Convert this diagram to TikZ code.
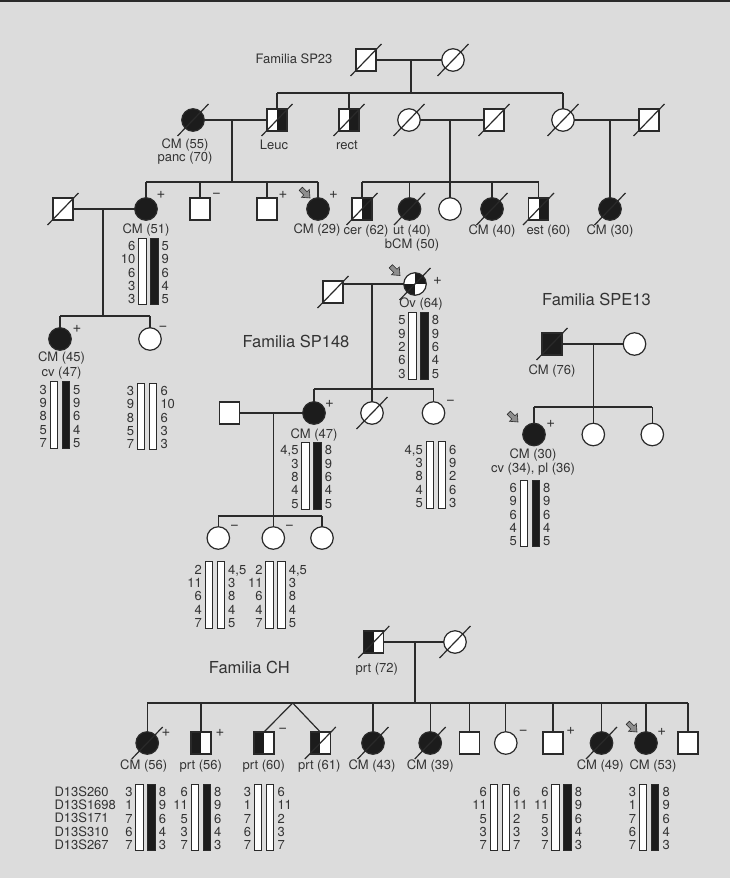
\documentclass[tikz,border=0pt]{standalone}
\usepackage{fontspec}
\setmainfont{TeX Gyre Heros}
\definecolor{bg}{HTML}{DCDCDC}
\definecolor{lc}{HTML}{2A2A2A}
\definecolor{fc}{HTML}{1C1C1C}
\definecolor{tc}{HTML}{333333}
\definecolor{ac}{HTML}{8E8E8E}
\newcount\hcnt
\tikzset{
  ln/.style={draw=lc, line width=1.2pt},
  sym/.style={draw=lc, line width=1.2pt, fill=white, inner sep=0pt, outer sep=0pt},
  male/.style={sym, rectangle, minimum width=20pt, minimum height=22pt},
  fem/.style={sym, circle, minimum size=22.5pt},
  aff/.style={fill=fc},
  lhalf/.style={path picture={\fill[fc] (path picture bounding box.south west) rectangle (path picture bounding box.north);}},
  rhalf/.style={path picture={\fill[fc] (path picture bounding box.south) rectangle (path picture bounding box.north east);}},
  quart/.style={path picture={\fill[fc] (path picture bounding box.center) rectangle (path picture bounding box.north east);
                              \fill[fc] (path picture bounding box.center) rectangle (path picture bounding box.south west);}},
  lab/.style={text=tc, font=\fontsize{13}{15}\selectfont, inner sep=0pt},
  num/.style={text=tc, font=\fontsize{13}{15}\selectfont, inner sep=0pt, text height=9.3pt, text depth=0pt},
  head/.style={text=tc, font=\fontsize{16.5}{19}\selectfont, inner sep=0pt},
  sg/.style={text=tc, font=\fontsize{15}{17}\selectfont, inner sep=0pt},
  barst/.style={draw=lc, line width=1pt},
}
\newcommand\dcd[1]{\draw[ln] ([shift={(-15.5,16)}]#1.center) -- ([shift={(15.5,-16)}]#1.center);}
\newcommand\prb[2]{%
  \begin{scope}[shift={(#1,#2)}, rotate=-45]
    \filldraw[fill=ac, draw=lc, line width=0.6pt] (0,0) -- (-6.5,-5.5) -- (-6.5,-2.3) -- (-13,-2.3) -- (-13,2.3) -- (-6.5,2.3) -- (-6.5,5.5) -- cycle;
  \end{scope}}
\newcommand\hap[6]{%
  \draw[barst, fill=#3] (#1,#2) rectangle ++(7.5,66.7);
  \draw[barst, fill=#4] (#1+12,#2) rectangle ++(7.5,66.7);
  \foreach \v [count=\i] in {#5} {\global\advance\hcnt by 1
    \node[num, anchor=east] (hn\the\hcnt) at (#1-3, #2+8+\i*13.3-13.3) {\v};}
  \foreach \v [count=\i] in {#6} {\global\advance\hcnt by 1
    \node[num, anchor=west] (hn\the\hcnt) at (#1+23, #2+8+\i*13.3-13.3) {\v};}
}
\begin{document}
\begin{tikzpicture}[x=1pt,y=-1pt]
\useasboundingbox (0,0) rectangle (730,878);
\fill[bg] (0,0) rectangle (730,878);
\draw[lc, line width=2pt] (0,1) -- (730,1);

% ================= Familia SP23 =================
\node[lab] (t23) at (294,59) {Familia SP23};
\node[male] (a1) at (366,60) {};
\node[fem] (a2) at (453,60) {};
\dcd{a1}\dcd{a2}
\coordinate (ja) at (411,60);
\coordinate (sa) at (411,93);
\draw[ln] (a1) -- (a2);
\draw[ln] (ja) -- (sa);

\node[fem,aff] (b1) at (193,120) {};
\node[male,rhalf] (b2) at (277,120) {};
\node[male,rhalf] (b3) at (349,120) {};
\node[fem] (b4) at (409,120) {};
\node[male] (b5) at (494,120) {};
\node[fem] (b6) at (563,120) {};
\node[male] (b7) at (649,120) {};
\dcd{b1}\dcd{b2}\dcd{b3}\dcd{b4}\dcd{b5}\dcd{b6}\dcd{b7}
\draw[ln] (b2 |- sa) -- (b6 |- sa);
\draw[ln] (b2 |- sa) -- (b2.north);
\draw[ln] (b3 |- sa) -- (b3.north);
\draw[ln] (b6 |- sa) -- (b6.north);
\draw[ln] (b1) -- (b2);
\draw[ln] (b4) -- (b5);
\draw[ln] (b6) -- (b7);
\node[lab] (lb1) at (185,145) {CM (55)};
\node[lab] (lb1b) at (185,158) {panc (70)};
\node[lab] (lb2) at (274,145) {Leuc};
\node[lab] (lb3) at (347,145) {rect};

\coordinate (jb1) at (232,120);
\coordinate (sb1) at (232,182);
\coordinate (jb2) at (450,120);
\coordinate (sb2) at (450,182);
\coordinate (jb3) at (610,120);
\draw[ln] (jb1) -- (sb1);

\node[male] (c1) at (63,209) {};
\node[fem,aff] (c2) at (146,209) {};
\node[male] (c3) at (200,209) {};
\node[male] (c4) at (267,209) {};
\node[fem,aff] (c5) at (318,209) {};
\node[male,rhalf] (c6) at (362,209) {};
\node[fem,aff] (c7) at (409.5,209) {};
\node[fem] (c8) at (450,209) {};
\node[fem,aff] (c9) at (492,209) {};
\node[male,rhalf] (c10) at (538.5,209) {};
\node[fem,aff] (c12) at (610,209) {};
\dcd{c1}\dcd{c6}\dcd{c7}\dcd{c9}\dcd{c10}\dcd{c12}
\draw[ln] (c2 |- sb1) -- (c5 |- sb1);
\foreach \n in {c2,c3,c4,c5} \draw[ln] (\n |- sb1) -- (\n.north);
\draw[ln] (c6 |- sb2) -- (c10 |- sb2);
\foreach \n in {c6,c7,c9,c10} \draw[ln] (\n |- sb2) -- (\n.north);
\draw[ln] (jb2) -- (c8.north);
\draw[ln] (jb3) -- (c12.north);
\node[sg] (c2p) at (161,195) {+};
\node[sg] (c3p) at (216.5,195) {−};
\node[sg] (c4p) at (283,195) {+};
\node[sg] (c5p) at (333.5,195) {+};
\prb{310}{198}
\node[lab] (lc2) at (146,230) {CM (51)};
\node[lab] (lc5) at (317,230) {CM (29)};
\node[lab] (lc6) at (366,231) {cer (62)};
\node[lab] (lc7) at (412,231) {ut (40)};
\node[lab] (lc7b) at (412,245.5) {bCM (50)};
\node[lab] (lc9) at (492,231) {CM (40)};
\node[lab] (lc10) at (548.5,231) {est (60)};
\node[lab] (lc12) at (610,231) {CM (30)};
\hap{138.5}{238}{white}{fc}{6,10,6,3,3}{5,9,6,4,5}

\coordinate (jc) at (103,209);
\coordinate (sd) at (103,316);
\draw[ln] (c1) -- (c2);
\draw[ln] (jc) -- (sd);
\node[fem,aff] (d1) at (60,339) {};
\node[fem] (d2) at (150,339) {};
\draw[ln] (d1 |- sd) -- (d2 |- sd);
\draw[ln] (d1 |- sd) -- (d1.north);
\draw[ln] (d2 |- sd) -- (d2.north);
\node[sg] (d1p) at (77,329) {+};
\node[sg] (d2p) at (163,328) {−};
\node[lab] (ld1) at (61.5,358.3) {CM (45)};
\node[lab] (ld1b) at (61.5,372.7) {cv (47)};
\hap{50}{381.7}{white}{fc}{3,9,8,5,7}{5,9,6,4,5}
\hap{137.3}{383}{white}{white}{3,9,8,5,7}{6,10,6,3,3}

% ================= Familia SP148 =================
\node[head] (t148) at (296,341) {Familia SP148};
\node[male] (e1) at (333,292) {};
\node[fem,quart] (e2) at (415,284) {};
\dcd{e1}\dcd{e2}
\draw[ln] (e1.east |- e2.west) -- (e2.west);
\node[sg] (e2p) at (437.5,281) {+};
\prb{400}{275.5}
\node[lab] (le2) at (421,304) {Ov (64)};
\hap{408.7}{312.3}{white}{fc}{5,9,2,6,3}{8,9,6,4,5}
\coordinate (je) at (372,284);
\coordinate (se) at (372,389);
\node[male] (f1) at (229.7,413) {};
\node[fem,aff] (f2) at (314,413) {};
\node[fem] (f3) at (372,413) {};
\node[fem] (f4) at (433.5,413) {};
\dcd{f3}
\draw[ln] (je) -- (f3.north);
\draw[ln] (f2 |- se) -- (f4 |- se);
\draw[ln] (f2 |- se) -- (f2.north);
\draw[ln] (f4 |- se) -- (f4.north);
\draw[ln] (f1) -- (f2);
\node[sg] (f2p) at (329.5,404) {+};
\node[sg] (f4p) at (450.5,402) {−};
\node[lab] (lf2) at (314,435) {CM (47)};
\hap{301.7}{442.3}{white}{fc}{{4,5},3,8,4,5}{8,9,6,4,5}
\hap{426}{441.7}{white}{white}{{4,5},3,8,4,5}{6,9,2,6,3}
\coordinate (jf) at (273.3,413);
\coordinate (sf) at (273.3,516);
\node[fem] (g1) at (218.3,538) {};
\node[fem] (g2) at (273.3,538) {};
\node[fem] (g3) at (322,538) {};
\draw[ln] (jf) -- (g2.north);
\draw[ln] (g1 |- sf) -- (g3 |- sf);
\draw[ln] (g1 |- sf) -- (g1.north);
\draw[ln] (g3 |- sf) -- (g3.north);
\node[sg] (g1p) at (234.5,527.5) {−};
\node[sg] (g2p) at (289.5,527.5) {−};
\hap{205}{561.7}{white}{white}{2,11,6,4,7}{{4,5},3,8,4,5}
\hap{265.7}{561.7}{white}{white}{2,11,6,4,7}{{4,5},3,8,4,5}

% ================= Familia SPE13 =================
\node[head] (t13) at (596.5,299) {Familia SPE13};
\node[male,aff] (h1) at (552,344) {};
\node[fem] (h2) at (634.5,344) {};
\dcd{h1}
\draw[ln] (h1) -- (h2);
\coordinate (jh) at (593.3,344);
\coordinate (sh) at (593.3,407);
\node[lab] (lh1) at (552,371) {CM (76)};
\node[fem,aff] (i1) at (534,434.5) {};
\node[fem] (i2) at (593.3,434.5) {};
\node[fem] (i3) at (652.3,434.5) {};
\draw[ln] (jh) -- (i2.north);
\draw[ln] (i1 |- sh) -- (i3 |- sh);
\draw[ln] (i1 |- sh) -- (i1.north);
\draw[ln] (i3 |- sh) -- (i3.north);
\node[sg] (i1p) at (550.7,424) {+};
\prb{518}{422}
\node[lab] (li1) at (533,455) {CM (30)};
\node[lab] (li1b) at (533,469.3) {cv (34), pl (36)};
\hap{520}{480}{white}{fc}{6,9,6,4,5}{8,9,6,4,5}

% ================= Familia CH =================
\node[head] (tch) at (249.4,667) {Familia CH};
\node[male,lhalf] (j1) at (373.8,642) {};
\node[fem] (j2) at (455,642) {};
\dcd{j1}\dcd{j2}
\draw[ln] (j1) -- (j2);
\node[lab] (lj1) at (376.8,669.3) {prt (72)};
\coordinate (jj) at (415,642);
\coordinate (sj) at (415,703);
\coordinate (tw) at (292.7,703);
\draw[ln] (jj) -- (sj);

\node[fem,aff] (k1) at (147.2,743) {};
\node[male,lhalf] (k2) at (201,743) {};
\node[male,lhalf] (k3) at (264,743) {};
\node[male,lhalf] (k4) at (320.3,743) {};
\node[fem,aff] (k5) at (373,743) {};
\node[fem,aff] (k6) at (430.2,743) {};
\node[male] (k7) at (469.3,743) {};
\node[fem] (k8) at (505.8,743) {};
\node[male] (k9) at (553,743) {};
\node[fem,aff] (k10) at (601.5,743) {};
\node[fem,aff] (k11) at (646,743) {};
\node[male] (k12) at (688,743) {};
\dcd{k1}\dcd{k4}\dcd{k5}\dcd{k6}\dcd{k10}
\draw[ln] (k1 |- sj) -- (k12 |- sj);
\foreach \n in {k1,k2,k5,k6,k7,k8,k9,k10,k11,k12} \draw[ln] (\n |- sj) -- (\n.north);
\draw[ln] (tw) -- (k3.north);
\draw[ln] (tw) -- (k4.north);
\node[sg] (k1p) at (166,732.7) {+};
\node[sg] (k2p) at (220,732.7) {+};
\node[sg] (k3p) at (282.7,730.5) {−};
\node[sg] (k8p) at (523.3,732.3) {−};
\node[sg] (k9p) at (570.7,730.5) {+};
\node[sg] (k11p) at (661.7,732.3) {+};
\prb{637}{732}
\node[lab] (lk1) at (143.7,766) {CM (56)};
\node[lab] (lk2) at (200.8,766) {prt (56)};
\node[lab] (lk3) at (263.8,766) {prt (60)};
\node[lab] (lk4) at (319.2,766) {prt (61)};
\node[lab] (lk5) at (372,766) {CM (43)};
\node[lab] (lk6) at (430.3,766) {CM (39)};
\node[lab] (lk10) at (600.3,766) {CM (49)};
\node[lab] (lk11) at (653,766) {CM (53)};

\node[num, anchor=west] (m1) at (54.3,791.7) {D13S260};
\node[num, anchor=west] (m2) at (54.3,805) {D13S1698};
\node[num, anchor=west] (m3) at (54.3,818.3) {D13S171};
\node[num, anchor=west] (m4) at (54.3,831.6) {D13S310};
\node[num, anchor=west] (m5) at (54.3,844.9) {D13S267};
\hap{135.7}{784}{white}{fc}{3,1,7,6,7}{8,9,6,4,3}
\hap{191}{784}{white}{fc}{6,11,5,3,7}{8,9,6,4,3}
\hap{254.3}{784}{white}{white}{3,1,7,6,7}{6,11,2,3,7}
\hap{490}{784}{white}{white}{6,11,5,3,7}{6,11,2,3,7}
\hap{551.7}{784}{white}{fc}{6,11,5,3,7}{8,9,6,4,3}
\hap{639.3}{784}{white}{fc}{3,1,7,6,7}{8,9,6,4,3}
\end{tikzpicture}
\end{document}
